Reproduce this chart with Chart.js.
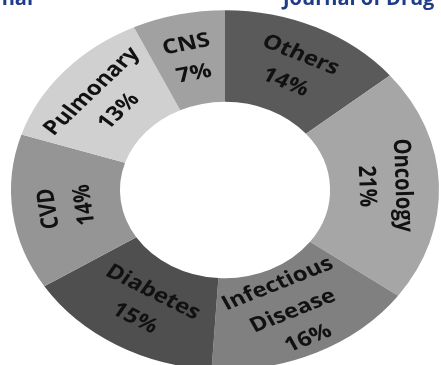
<!DOCTYPE html>
<html>
<head>
<meta charset="utf-8">
<script src="https://cdn.jsdelivr.net/npm/chart.js@4"></script>
<style>
  html, body { margin: 0; padding: 0; background: #fff; overflow: hidden; }
  #page { position: relative; width: 441px; height: 365px; overflow: hidden; }
  #box { position: absolute; left: 0; top: -30px; width: 450px; height: 440px; }
</style>
</head>
<body>
<div id="page"><div id="box"><canvas id="donutChart"></canvas></div></div>
<script>
// market share by therapeutic area (%)
var areas = ['Others', 'Oncology', 'Infectious Disease', 'Diabetes', 'CVD', 'Pulmonary', 'CNS'];
var shares = [14, 21, 16, 15, 14, 13, 7];
var shades = ['#5a5a5a', '#a6a6a6', '#808080', '#4f4f4f', '#959595', '#d0d0d0', '#a1a1a1'];

var headerLeft = 'Journal';
var headerRight = 'Journal of Drug Delivery';

var squashY = 0.84;   // picture is flattened vertically
var offsetY = 30;     // canvas sits 30px above the page

var squash = {
    id: 'squash',
    beforeDatasetsDraw: function (chart) {
        var ctx = chart.ctx;
        var a = chart.getDatasetMeta(0).data[0];
        ctx.save();
        ctx.translate(a.x, a.y);
        ctx.scale(1, squashY);
        ctx.translate(-a.x, -a.y);
    },
    afterDatasetsDraw: function (chart) {
        var ctx = chart.ctx;
        var meta = chart.getDatasetMeta(0);
        ctx.font = 'bold 24px "Open Sans"';
        ctx.fillStyle = '#111';
        ctx.textAlign = 'center';
        ctx.textBaseline = 'middle';
        meta.data.forEach(function (arc, i) {
            var mid = (arc.startAngle + arc.endAngle) / 2;
            var r = (arc.innerRadius + arc.outerRadius) / 2;
            var rot = mid + Math.PI / 2;
            rot = Math.atan2(Math.sin(rot), Math.cos(rot));
            if (Math.abs(rot) > Math.PI * 100 / 180) rot += Math.PI;
            var lines = areas[i].split(' ').concat([shares[i] + '%']);
            var lh = 36;
            ctx.save();
            ctx.translate(arc.x + Math.cos(mid) * r, arc.y + Math.sin(mid) * r);
            ctx.rotate(rot);
            lines.forEach(function (t, k) {
                ctx.fillText(t, 0, (k - (lines.length - 1) / 2) * lh);
            });
            ctx.restore();
        });
        ctx.restore();
    },
    afterDraw: function (chart) {
        var ctx = chart.ctx;
        ctx.save();
        ctx.font = 'bold 20px "Open Sans"';
        ctx.fillStyle = '#1f3c88';
        ctx.textBaseline = 'alphabetic';
        ctx.textAlign = 'right';
        ctx.fillText(headerLeft, 33, 5 + offsetY);
        ctx.textAlign = 'left';
        ctx.fillText(headerRight, 283, 5 + offsetY);
        ctx.restore();
    }
};

new Chart(document.getElementById('donutChart'), {
    type: 'doughnut',
    data: {
        labels: areas,
        datasets: [{
            data: shares,
            backgroundColor: shades,
            borderWidth: 0
        }]
    },
    options: {
        responsive: true,
        maintainAspectRatio: false,
        animation: false,
        events: [],
        radius: 214,
        cutout: 108,
        layout: { padding: 0 },
        plugins: {
            legend: { display: false },
            tooltip: { enabled: false }
        }
    },
    plugins: [squash]
});
</script>
</body>
</html>
